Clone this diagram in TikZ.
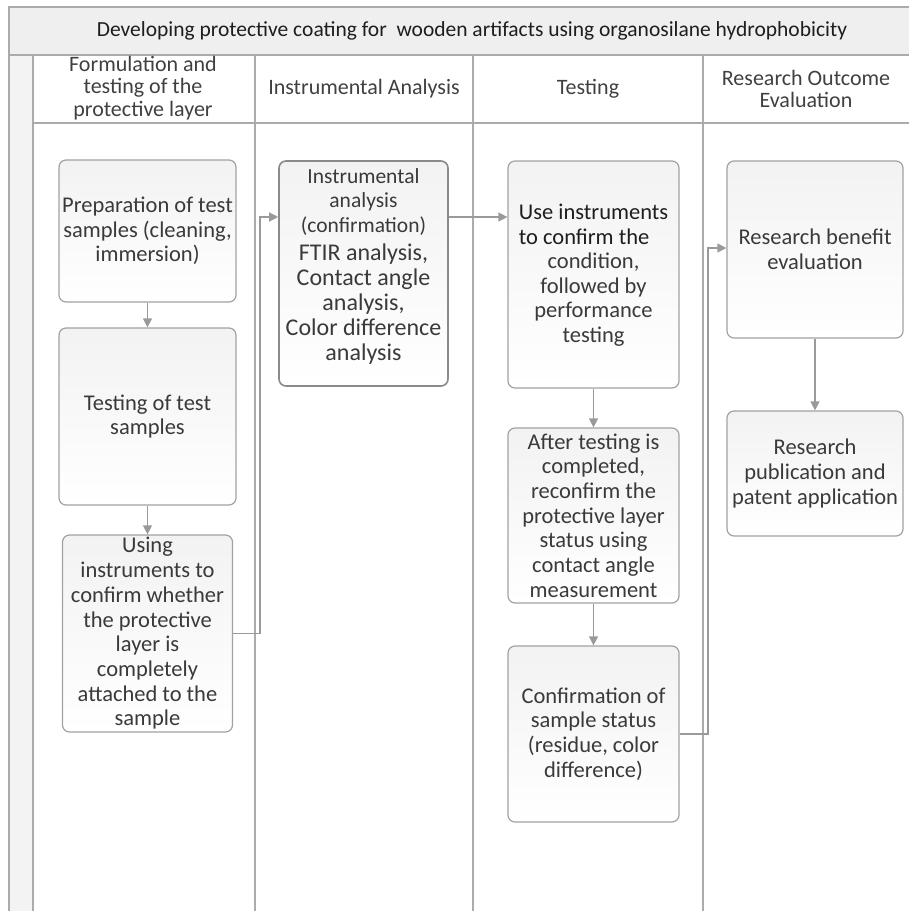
\documentclass[tikz,border=0pt]{standalone}
\usepackage{fontspec}
\setmainfont{Carlito}
\usetikzlibrary{arrows.meta}
\definecolor{boxline}{HTML}{A2A2A2}
\definecolor{boxlinedark}{HTML}{8A8A8A}
\definecolor{arrowgray}{HTML}{9A9A9A}
\definecolor{lanegray}{HTML}{ABABAB}
\definecolor{titlefill}{HTML}{EFEFEF}
\definecolor{stripfill}{HTML}{F3F3F3}
\definecolor{headtext}{HTML}{404040}
\definecolor{boxtext}{HTML}{3A3A3A}
\definecolor{darktext}{HTML}{1E1E1E}
\tikzset{
  stepbox/.style={draw=boxline, line width=1.2pt, rounded corners=7pt,
    top color=black!5, middle color=white, bottom color=white,
    align=center, inner sep=2pt,
    text=boxtext, font=\fontsize{22.5}{24.7}\selectfont},
  headtxt/.style={align=center, text=headtext, inner sep=0pt,
    font=\fontsize{22}{22.5}\selectfont},
  titletxt/.style={align=center, text=darktext, inner sep=0pt,
    font=\fontsize{21.5}{23}\selectfont},
  laneline/.style={draw=lanegray, line width=1.6pt},
  flow/.style={draw=arrowgray, line width=1.3pt,
    -{Triangle[length=9pt,width=9pt]}}
}
\begin{document}
\begin{tikzpicture}[x=1pt,y=-1pt]
\useasboundingbox (0,0) rectangle (909,911);
% title band and left strip
\fill[titlefill] (9,7) rectangle (909,55);
\fill[stripfill] (9,55) rectangle (33,911);
\draw[laneline] (909,7) -- (9,7) -- (9,911);
\draw[laneline] (9,55) -- (909,55);
\draw[laneline] (33,123) -- (909,123);
\draw[laneline] (33,55) -- (33,911);
\draw[laneline] (255,55) -- (255,911);
\draw[laneline] (473,55) -- (473,911);
\draw[laneline] (703,55) -- (703,911);

\node[titletxt] (title) at (472,31) {Developing protective coating for \ wooden artifacts using organosilane hydrophobicity};

\node[headtxt] (h1) at (143,88) {Formulation and\\testing of the\\protective layer};
\node[headtxt] (h2) at (364,89) {Instrumental Analysis};
\node[headtxt] (h3) at (588,89) {Testing};
\node[headtxt] (h4) at (806,89) {Research Outcome\\Evaluation};

% lane 1
\node[stepbox, minimum width=177pt, minimum height=142pt] (b1) at (147.5,231)
  {Preparation of test\\samples (cleaning,\\immersion)};
\node[stepbox, minimum width=177pt, minimum height=177pt] (b2) at (147.5,416.5)
  {Testing of test\\samples};
\node[stepbox, minimum width=170pt, minimum height=197pt] (b3) at (147.5,633.5)
  {Using\\instruments to\\confirm whether\\the protective\\layer is\\completely\\attached to the\\sample};
% lane 2
\node[stepbox, draw=boxlinedark, line width=1.6pt, minimum width=169pt, minimum height=225pt] (b4) at (363.5,273.5)
  {{\fontsize{21.5}{24.5}\selectfont\begin{tabular}{@{}c@{}}Instrumental\\analysis\\(confirmation)\end{tabular}}\\[2pt]
   {\fontsize{24}{25}\selectfont\begin{tabular}{@{}c@{}}FTIR analysis,\\Contact angle\\analysis,\\Color difference\\analysis\end{tabular}}\\[12pt]\mbox{}};
% lane 3
\node[stepbox, minimum width=171pt, minimum height=227pt] (b5) at (593.5,274.5)
  {{\fontsize{22.5}{24.5}\selectfont\color{darktext}\begin{tabular}{@{}l@{}}Use instruments\\to confirm the\end{tabular}}\\condition,\\followed by\\performance\\testing};
\node[stepbox, minimum width=171pt, minimum height=175pt] (b6) at (593.5,515.5)
  {After testing is\\completed,\\reconfirm the\\protective layer\\status using\\contact angle\\measurement};
\node[stepbox, minimum width=171pt, minimum height=176pt] (b7) at (593.5,734)
  {Confirmation of\\sample status\\(residue, color\\difference)};
% lane 4
\node[stepbox, minimum width=176pt, minimum height=177pt] (b8) at (815,249.5)
  {Research benefit\\evaluation};
\node[stepbox, minimum width=176pt, minimum height=125pt] (b9) at (815,473.5)
  {Research\\publication and\\patent application};

% connectors
\coordinate (j1) at (260,217);
\coordinate (j2) at (708,248);
\draw[flow] (b1.south) -- (b2.north);
\draw[flow] (b2.south) -- (b2.south |- b3.north);
\draw[flow] (b3.east) -| (j1) -- (j1 -| b4.west);
\draw[flow] (j1 -| b4.east) -- (j1 -| b5.west);
\draw[flow] (b5.south) -- (b6.north);
\draw[flow] (b6.south) -- (b7.north);
\draw[flow] (b7.east) -| (j2) -- (j2 -| b8.west);
\draw[flow] (b8.south) -- (b9.north);
\end{tikzpicture}
\end{document}
